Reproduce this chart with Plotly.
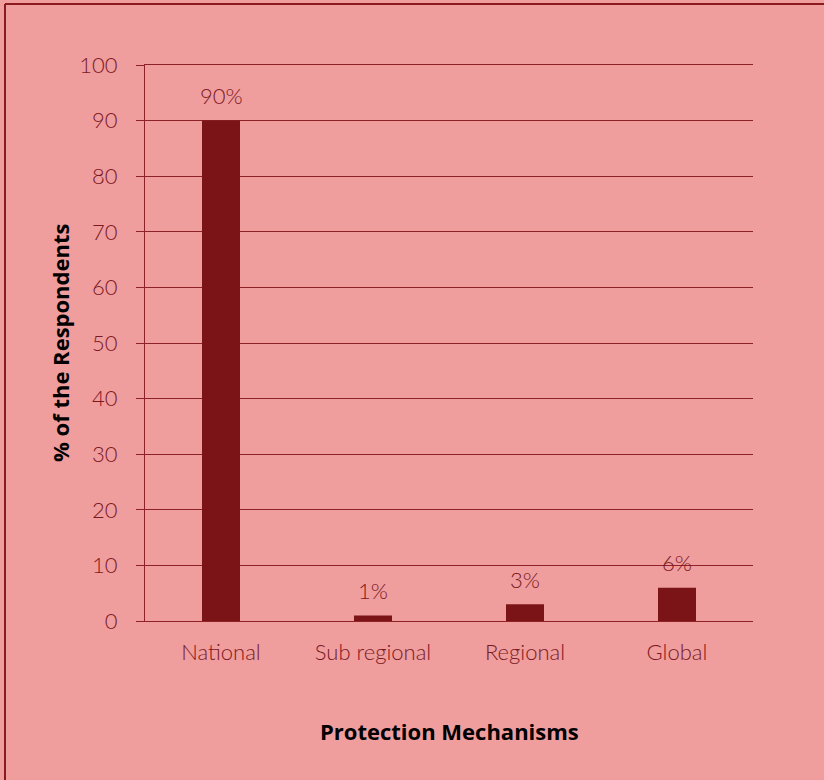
import plotly.graph_objects as go

categories = ["National", "Sub regional", "Regional", "Global"]
values = [90, 1, 3, 6]
labels = ["90%", "1%", "3%", "6%"]

BG = "#F09D9E"
BAR = "#7B1416"
LINE = "#8E2226"
TXT = "#7A1A1E"

W, H = 824, 780
L, R, T, B = 145, 71, 65, 159
pw, ph = W - L - R, H - T - B

fig = go.Figure()
fig.add_trace(go.Bar(x=categories, y=values, marker=dict(color=BAR, line=dict(width=0)),
                     hoverinfo="skip"))

for c, v, lab in zip(categories, values, labels):
    fig.add_annotation(x=c, y=v, text=lab, showarrow=False, yanchor="middle", yshift=25,
                       font=dict(family="Lato", size=22, color=TXT, weight=300))

fig.add_annotation(x=0.5, y=(621 - 731) / ph, xref="paper", yref="paper",
                   xanchor="center", yanchor="middle",
                   text="<b>Protection Mechanisms</b>", showarrow=False,
                   font=dict(family="Open Sans", size=22, color="black"))
fig.add_annotation(x=(60 - L) / pw, y=0.5, xref="paper", yref="paper",
                   xanchor="center", yanchor="middle",
                   text="<b>% of the Respondents</b>", showarrow=False, textangle=-90,
                   font=dict(family="Open Sans", size=22, color="black"))

# frame (top and left edges visible)
fx0 = (5 - L) / pw
fy1 = (621 - 4) / ph
fig.add_shape(type="line", xref="paper", yref="paper", x0=fx0, x1=(W - L) / pw,
              y0=fy1, y1=fy1, line=dict(color="#8A1A1E", width=2), layer="above")
fig.add_shape(type="line", xref="paper", yref="paper", x0=fx0, x1=fx0,
              y0=(621 - H) / ph, y1=fy1, line=dict(color="#8A1A1E", width=2), layer="above")

fig.update_layout(
    width=W, height=H,
    margin=dict(l=L, r=R, t=T, b=B),
    paper_bgcolor=BG, plot_bgcolor=BG,
    bargap=0.75,
    showlegend=False,
    font=dict(family="Lato", size=22, color=TXT),
)
fig.update_yaxes(range=[0, 100], dtick=10, showgrid=True, gridcolor=LINE, gridwidth=1,
                 showline=True, linecolor=LINE, linewidth=1, ticks="outside", ticklen=8,
                 tickcolor=LINE, zeroline=False, ticklabelstandoff=14,
                 tickfont=dict(family="Lato", size=22, color=TXT, weight=300))
fig.update_xaxes(showgrid=False, showline=True, mirror=True, linecolor=LINE, linewidth=1,
                 zeroline=False, ticks="", ticklabelstandoff=12,
                 tickfont=dict(family="Lato", size=22, color=TXT, weight=300))

fig.write_html("out.html")
